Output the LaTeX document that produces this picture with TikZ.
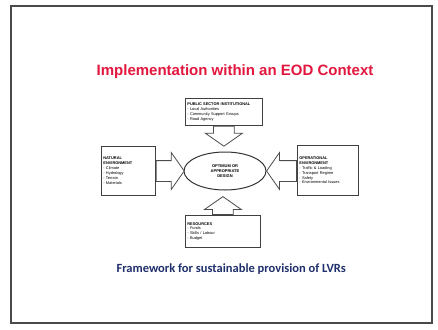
\documentclass[tikz,border=0pt]{standalone}
\usepackage{fontspec}
\setmainfont{Liberation Sans}
\newfontfamily\calibri{Carlito}
\usetikzlibrary{positioning,calc,shapes.geometric,shapes.arrows}
\definecolor{slidered}{HTML}{E3173E}
\definecolor{navy}{HTML}{1F2F6B}
\definecolor{slideframe}{HTML}{4A4A4A}
\tikzset{
  factor/.style ={rectangle, draw=black!75, fill=white, line width=0.8pt,
                  align=left, inner sep=2pt, anchor=north west,
                  font=\fontsize{3.9}{4.9}\selectfont},
  core/.style   ={ellipse, draw=black!80, fill=white, line width=1pt,
                  minimum width=82pt, minimum height=38pt, inner sep=0pt,
                  align=center, font=\fontsize{4}{5}\selectfont\bfseries},
  % hollow block arrow pushing a factor box onto the design ellipse
  blockarr/.style={single arrow, draw=black!70, fill=white, line width=0.8pt,
                  inner xsep=0pt, inner ysep=10pt, single arrow head extend=8pt,
                  single arrow tip angle=110},
}
\begin{document}
\begin{tikzpicture}[x=1pt,y=-1pt]
\useasboundingbox (0,0) rectangle (438,329);
\fill[white] (0,0) rectangle (438,329);
\draw[slideframe, line width=1.5pt] (11,6) rectangle (432,323);

\node[font=\fontsize{15}{18}\selectfont\bfseries, text=slidered]
  (title) at (235,72) {Implementation within an EOD Context};

\node[core] (design) at (225,171) {OPTIMUM OR\\APPROPRIATE\\DESIGN};

\node[factor, text width=73pt, minimum height=27pt] (pub) at (185,98)
  {\textbf{PUBLIC SECTOR INSTITUTIONAL}\\- Local Authorities\\
   - Community Support Groups\\- Road Agency};
\node[factor, text width=50pt, minimum height=49pt] (nat) at (101,146)
  {\textbf{NATURAL}\\\textbf{ENVIRONMENT}\\- Climate\\- Hydrology\\
   - Terrain\\- Materials};
\node[factor, text width=57pt, minimum height=50pt] (ops) at (297,145)
  {\textbf{OPERATIONAL}\\\textbf{ENVIRONMENT}\\- Traffic \& Loading\\
   - Transport Regime\\- Safety\\- Environmental Issues};
\node[factor, text width=71pt, minimum height=32pt] (res) at (185,215)
  {\textbf{RESOURCES}\\- Funds\\- Skills / Labour\\- Budget};

\node[blockarr, minimum height=20pt, rotate=-90, anchor=tail] (arrN)
  at (pub.south) {};
\node[blockarr, minimum height=28pt, anchor=tail] (arrW)
  at (nat.east |- design.west) {};
\node[blockarr, minimum height=30pt, rotate=180, anchor=tail] (arrE)
  at (ops.west |- design.east) {};
\node[blockarr, minimum height=18pt, rotate=90, anchor=tail] (arrS)
  at (res.north) {};

\node[font=\calibri\bfseries\fontsize{12.5}{14}\selectfont, text=navy,
  anchor=west] (caption) at (113,269)
  {Framework for sustainable provision of LVRs};
\end{tikzpicture}
\end{document}
